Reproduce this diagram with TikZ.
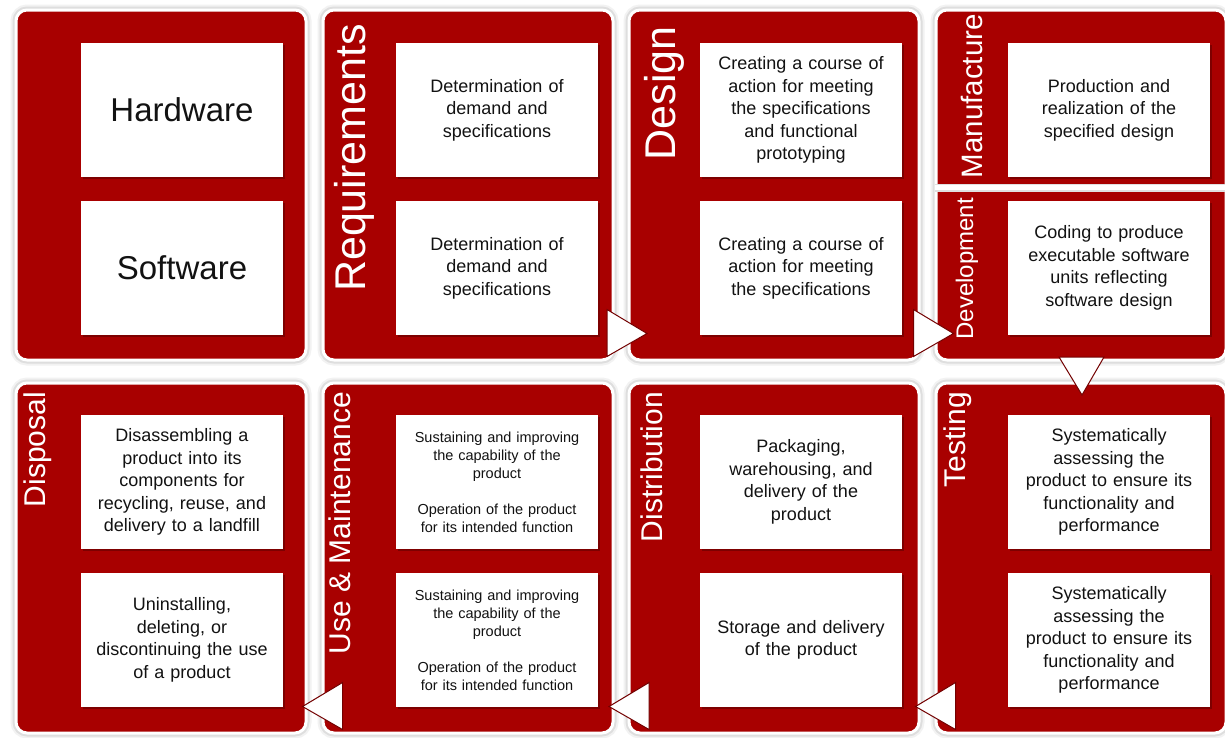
\documentclass[tikz,border=0pt]{standalone}
\usepackage{fontspec}
\setmainfont{Liberation Sans}
\usetikzlibrary{positioning,calc,shadows}
\definecolor{lcred}{RGB}{168,0,0}
\definecolor{lcdark}{RGB}{115,0,0}
\definecolor{lctext}{RGB}{18,18,18}

\begin{document}
\begin{tikzpicture}[
  x=1pt, y=-1pt,
  panel/.style={rectangle,rounded corners=11pt,fill=lcred,draw=white,line width=3pt,minimum width=290pt,minimum height=350pt,inner sep=0pt,preaction={draw=black!5,line width=11pt},preaction={draw=black!13,line width=7pt}},
  box/.style={rectangle,fill=white,minimum width=202pt,minimum height=134pt,text width=198pt,align=center,inner sep=0pt,text=lctext,font=\fontsize{18}{22.5}\selectfont,drop shadow={shadow xshift=2pt,shadow yshift=-2pt,fill=lcdark,opacity=0.8}},
  small/.style={font=\fontsize{14.5}{18}\selectfont},
  big/.style={font=\fontsize{33}{40}\selectfont},
  ttl/.style={rotate=90,anchor=base east,inner sep=0pt,text=white},
  tri/.style={fill=white,draw=lcdark,line width=1pt,line join=miter}
]
\useasboundingbox (0,0) rectangle (1225,737);
\fill[white] (0,0) rectangle (1225,737);

% PANELS: top row
\node[panel] (hw)  at (161,185)  {};
\node[panel] (req) at (468,185)  {};
\node[panel] (des) at (774,185)  {};
\node[panel] (mfg) at (1081,185) {};
% split of the last panel into manufacture / development
\draw[white,line width=5pt,preaction={draw=black!12,line width=8pt}] ([yshift=-2.5pt]mfg.west) -- ([yshift=-2.5pt]mfg.east);

% PANELS: bottom row
\node[panel] (disp) at (161,558)  {};
\node[panel] (use)  at (468,558)  {};
\node[panel] (dist) at (774,558)  {};
\node[panel] (test) at (1081,558) {};

% TITLES
\node[ttl,font=\fontsize{43}{50}\selectfont] (reqttl) at (365,24) {Requirements};
\node[ttl,font=\fontsize{43}{50}\selectfont] (desttl) at (675,26) {Design};
\node[ttl,font=\fontsize{29.5}{35}\selectfont] (mfgttl) at (982,14) {Manufacture};
\node[ttl,font=\fontsize{24}{29}\selectfont] (devttl) at (973,198) {Development};
\node[ttl,font=\fontsize{30}{36}\selectfont] (dispttl) at (45,392) {Disposal};
\node[ttl,font=\fontsize{30}{36}\selectfont] (usettl) at (350,392) {Use \& Maintenance};
\node[ttl,font=\fontsize{30}{36}\selectfont] (distttl) at (662,392) {Distribution};
\node[ttl,font=\fontsize{30}{36}\selectfont] (testttl) at (965,392) {Testing};

% TOP ROW boxes
\node[box,big] (hwbox) at (182,110) {Hardware};
\node[box,big] (swbox) at (182,268) {Software};
\node[box] (req1) at (497,110) {Determination of\\demand and\\specifications};
\node[box] (req2) at (497,268) {Determination of\\demand and\\specifications};
\node[box] (des1) at (801,110) {Creating a course of\\action for meeting\\the specifications\\and functional\\prototyping};
\node[box] (des2) at (801,268) {Creating a course of\\action for meeting\\the specifications};
\node[box] (mfg1) at (1109,110) {Production and\\realization of the\\specified design};
\node[box] (dev1) at (1109,268) {Coding to produce\\executable software\\units reflecting\\software design};

% BOTTOM ROW boxes
\node[box] (disp1) at (182,482) {Disassembling a\\product into its\\components for\\recycling, reuse, and\\delivery to a landfill};
\node[box] (disp2) at (182,640) {Uninstalling,\\deleting, or\\discontinuing the use\\of a product};
\node[box,small] (use1) at (497,482) {Sustaining and improving\\the capability of the\\product\\[18pt]Operation of the product\\for its intended function};
\node[box,small] (use2) at (497,640) {Sustaining and improving\\the capability of the\\product\\[18pt]Operation of the product\\for its intended function};
\node[box] (dist1) at (801,482) {Packaging,\\warehousing, and\\delivery of the\\product};
\node[box] (dist2) at (801,640) {Storage and delivery\\of the product};
\node[box] (test1) at (1109,482) {Systematically\\assessing the\\product to ensure its\\functionality and\\performance};
\node[box] (test2) at (1109,640) {Systematically\\assessing the\\product to ensure its\\functionality and\\performance};

% FLOW arrows between panels
\coordinate (a1) at ($(req.south east)!.5!(des.south west)$);
\coordinate (a2) at ($(des.south east)!.5!(mfg.south west)$);
\coordinate (a3) at ($(mfg.south)!.5!(test.north)$);
\coordinate (a4) at ($(dist.south east)!.5!(test.south west)$);
\coordinate (a5) at ($(use.south east)!.5!(dist.south west)$);
\coordinate (a6) at ($(disp.south east)!.5!(use.south west)$);

\draw[tri] ([shift={(-14,-52)}]a1) -- ([shift={(26,-28)}]a1) -- ([shift={(-14,-5)}]a1) -- cycle;
\draw[tri] ([shift={(-14,-52)}]a2) -- ([shift={(26,-28)}]a2) -- ([shift={(-14,-5)}]a2) -- cycle;
\draw[tri] ([shift={(-22,-14.5)}]a3) -- ([shift={(23,-14.5)}]a3) -- ([shift={(1,23.5)}]a3) -- cycle;
\draw[tri] ([shift={(28,-52)}]a4) -- ([shift={(-12,-28)}]a4) -- ([shift={(28,-5)}]a4) -- cycle;
\draw[tri] ([shift={(28,-52)}]a5) -- ([shift={(-12,-28)}]a5) -- ([shift={(28,-5)}]a5) -- cycle;
\draw[tri] ([shift={(28,-52)}]a6) -- ([shift={(-12,-28)}]a6) -- ([shift={(28,-5)}]a6) -- cycle;

\end{tikzpicture}
\end{document}
